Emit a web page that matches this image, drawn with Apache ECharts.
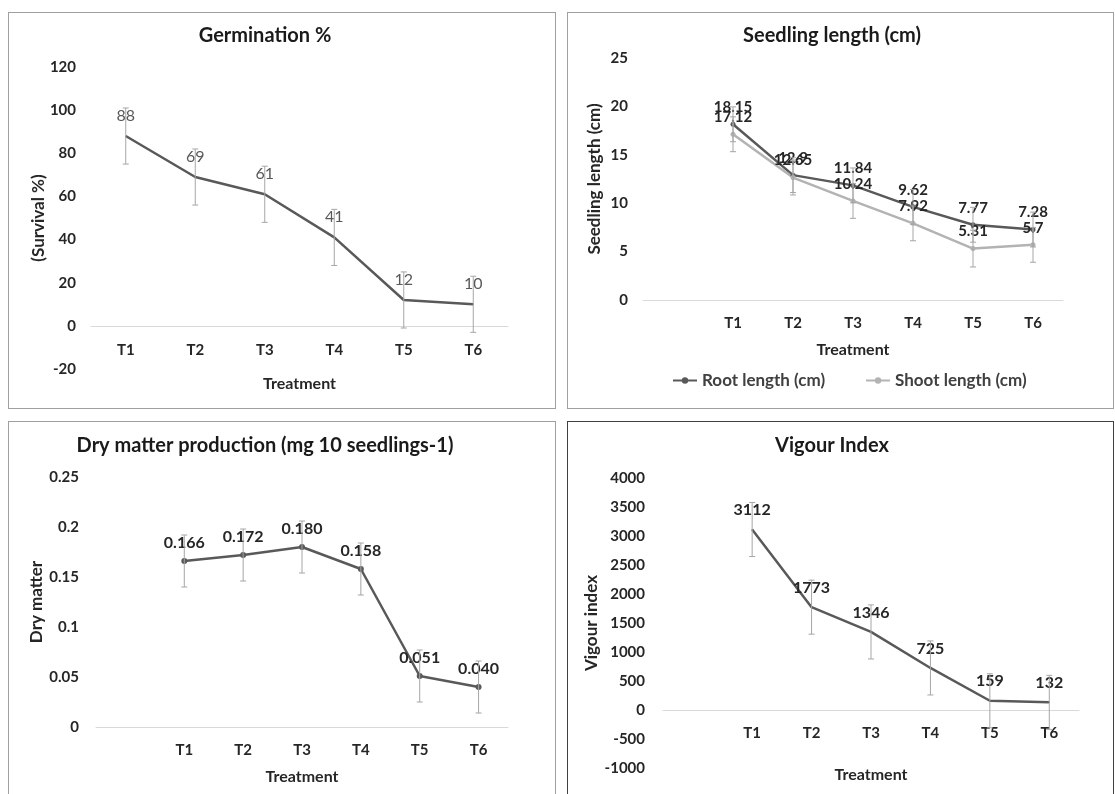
<!DOCTYPE html>
<html>
<head>
<meta charset="utf-8">
<script src="https://cdn.jsdelivr.net/npm/echarts@6/dist/echarts.min.js"></script>
<style>
  html, body { margin: 0; padding: 0; background: #fff; width: 1115px; height: 794px; overflow: hidden; }
  .panel { position: absolute; box-sizing: border-box; border: 1px solid #a0a0a0; }
</style>
</head>
<body>
<div id="p1" class="panel" style="left:8px;top:12px;width:548px;height:397px;"></div>
<div id="p2" class="panel" style="left:567px;top:12px;width:547px;height:397px;"></div>
<div id="p3" class="panel" style="left:8px;top:421px;width:548px;height:390px;"></div>
<div id="p4" class="panel" style="left:567px;top:421px;width:547px;height:390px;border-color:#404040;"></div>
<script>
/* data */
const treatments = ['T1', 'T2', 'T3', 'T4', 'T5', 'T6']
const germination = [88, 69, 61, 41, 12, 10]
const germinationErr = [13, 13, 13, 13, 13, 13]
const rootLength = [18.15, 12.9, 11.84, 9.62, 7.77, 7.28]
const shootLength = [17.12, 12.65, 10.24, 7.92, 5.31, 5.7]
const rootErr = [1.8, 1.8, 1.8, 1.8, 1.8, 1.8]
const shootErr = [1.8, 1.8, 1.8, 1.8, 1.9, 1.8]
const dryMatter = [0.166, 0.172, 0.180, 0.158, 0.051, 0.040]
const dryMatterErr = [0.026, 0.026, 0.026, 0.026, 0.026, 0.026]
const vigour = [3112, 1773, 1346, 725, 159, 132]
const vigourErr = [466, 466, 466, 466, 466, 466]

const FONT = 'Lato, "Open Sans", sans-serif'
const TXT = '#262626'
const DARK = '#595959'
const LIGHT = '#b3b3b3'
const ERR = '#a6a6a6'

// error bars as a custom series: [categoryIndex, low, high]
function errorSeries(values, errs, offset) {
  return {
    type: 'custom',
    z: 5,
    silent: true,
    data: values.map((v, i) => [i + offset, v - errs[i], v + errs[i]]),
    renderItem: function (params, api) {
      const lo = api.coord([api.value(0), api.value(1)])
      const hi = api.coord([api.value(0), api.value(2)])
      const w = 3
      const st = { stroke: ERR, lineWidth: 1 }
      return {
        type: 'group',
        children: [
          { type: 'line', shape: { x1: lo[0], y1: lo[1], x2: hi[0], y2: hi[1] }, style: st },
          { type: 'line', shape: { x1: lo[0] - w, y1: lo[1], x2: lo[0] + w, y2: lo[1] }, style: st },
          { type: 'line', shape: { x1: hi[0] - w, y1: hi[1], x2: hi[0] + w, y2: hi[1] }, style: st }
        ]
      }
    }
  }
}

function baseOption(c) {
  return {
    animation: false,
    textStyle: { fontFamily: FONT },
    graphic: [{
      type: 'text',
      style: {
        text: c.title, x: c.titleX, y: c.titleY,
        textAlign: 'center', textVerticalAlign: 'middle',
        font: 'bold 20px ' + FONT, fill: '#1a1a1a'
      }
    }],
    grid: Object.assign({ containLabel: false, outerBoundsMode: 'none' }, c.grid),
    xAxis: {
      type: 'category',
      data: c.cats,
      name: 'Treatment',
      nameLocation: 'middle',
      nameGap: c.xNameGap,
      nameTextStyle: { fontFamily: FONT, fontWeight: 'bold', fontSize: 16, color: TXT },
      axisLine: { onZero: true, lineStyle: { color: '#d9d9d9', width: 1 } },
      axisTick: { show: false },
      // labels stay at the grid's bottom edge, so the margin lifts them up to the zero line
      axisLabel: { fontFamily: FONT, fontWeight: 'bold', fontSize: 15, color: TXT, margin: c.xLabelMargin, interval: 0 }
    },
    yAxis: {
      type: 'value',
      min: c.min, max: c.max, interval: c.interval,
      name: c.yName,
      nameLocation: 'middle',
      nameGap: c.yNameGap,
      nameMoveOverlap: false,
      nameTextStyle: { fontFamily: FONT, fontWeight: 'bold', fontSize: 17, color: TXT },
      axisLine: { show: false },
      axisTick: { show: false },
      splitLine: { show: false },
      axisLabel: {
        fontFamily: FONT, fontWeight: 'bold', fontSize: 15, color: TXT, margin: c.yLabelMargin,
        formatter: v => String(v)
      }
    },
    series: []
  }
}

// Germination %
const o1 = baseOption({
  title: 'Germination %', titleX: 256, titleY: 23,
  grid: { left: 82, top: 54, width: 417, height: 302 },
  cats: treatments, xNameGap: 7, xLabelMargin: -26,
  min: -20, max: 120, interval: 20,
  yName: '(Survival %)', yNameGap: 44, yLabelMargin: 15
})
o1.series = [{
  type: 'line', data: germination, symbol: 'circle', symbolSize: 1,
  lineStyle: { color: DARK, width: 2.5 }, itemStyle: { color: DARK },
  label: { show: true, position: 'top', distance: 12, fontFamily: FONT, fontSize: 16, color: DARK }
}, errorSeries(germination, germinationErr, 0)]
echarts.init(document.getElementById('p1')).setOption(o1)

// Seedling length
const cats2 = [''].concat(treatments)
const o2 = baseOption({
  title: 'Seedling length (cm)', titleX: 264, titleY: 23,
  grid: { left: 75, top: 45, width: 420, height: 242 },
  cats: cats2, xNameGap: 42, xLabelMargin: 16,
  min: 0, max: 25, interval: 5,
  yName: 'Seedling length (cm)', yNameGap: 40, yLabelMargin: 15
})
o2.legend = {
  left: 99, top: 354, itemWidth: 24, itemHeight: 8, itemGap: 40,
  textStyle: { fontFamily: FONT, fontWeight: 'bold', fontSize: 17, color: '#404040' },
  data: ['Root length (cm)', 'Shoot length (cm)']
}
const lbl2 = { show: true, position: 'top', distance: 7, fontFamily: FONT, fontWeight: 'bold', fontSize: 15, color: TXT }
o2.series = [{
  name: 'Root length (cm)', type: 'line', data: [null].concat(rootLength),
  symbol: 'circle', symbolSize: 5,
  lineStyle: { color: DARK, width: 2.5 }, itemStyle: { color: DARK }, label: lbl2
}, {
  name: 'Shoot length (cm)', type: 'line', data: [null].concat(shootLength),
  symbol: 'circle', symbolSize: 5,
  lineStyle: { color: LIGHT, width: 2.5 }, itemStyle: { color: LIGHT }, label: lbl2
}, errorSeries(rootLength, rootErr, 1), errorSeries(shootLength, shootErr, 1)]
echarts.init(document.getElementById('p2')).setOption(o2)

// Dry matter
const o3 = baseOption({
  title: 'Dry matter production (mg 10 seedlings-1)', titleX: 256, titleY: 24,
  grid: { left: 87, top: 55, width: 412, height: 250 },
  cats: cats2, xNameGap: 42, xLabelMargin: 16,
  min: 0, max: 0.25, interval: 0.05,
  yName: 'Dry matter', yNameGap: 51, yLabelMargin: 17
})
o3.series = [{
  type: 'line', data: [null].concat(dryMatter),
  symbol: 'circle', symbolSize: 6,
  lineStyle: { color: DARK, width: 2.5 }, itemStyle: { color: DARK },
  label: {
    show: true, position: 'top', distance: 7, fontFamily: FONT, fontWeight: 'bold', fontSize: 16, color: TXT,
    formatter: p => p.value.toFixed(3)
  }
}, errorSeries(dryMatter, dryMatterErr, 1)]
echarts.init(document.getElementById('p3')).setOption(o3)

// Vigour index
const o4 = baseOption({
  title: 'Vigour Index', titleX: 264, titleY: 24,
  grid: { left: 95, top: 56, width: 416, height: 290 },
  cats: cats2, xNameGap: -1, xLabelMargin: -42,
  min: -1000, max: 4000, interval: 500,
  yName: 'Vigour index', yNameGap: 63, yLabelMargin: 18
})
o4.series = [{
  type: 'line', data: [null].concat(vigour), symbol: 'circle', symbolSize: 1,
  lineStyle: { color: DARK, width: 2.5 }, itemStyle: { color: DARK },
  label: { show: true, position: 'top', distance: 11, fontFamily: FONT, fontWeight: 'bold', fontSize: 16, color: TXT }
}, errorSeries(vigour, vigourErr, 1)]
echarts.init(document.getElementById('p4')).setOption(o4)
</script>
</body>
</html>
